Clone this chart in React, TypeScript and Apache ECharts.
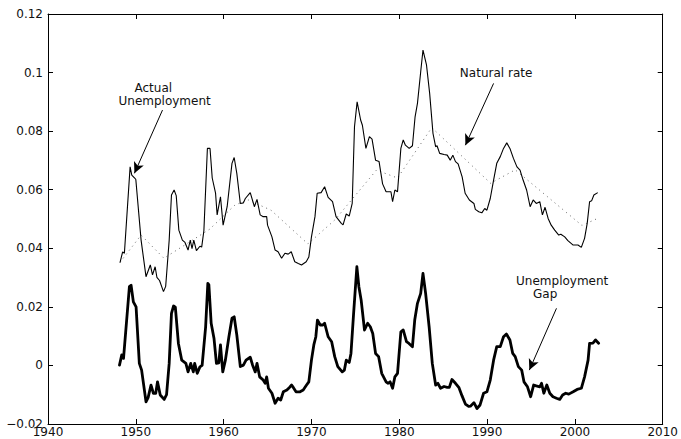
import { useEffect, useRef } from "react";
import * as echarts from "echarts";

// Actual unemployment rate, [year, rate]
const actualUnemployment: [number, number][] = [
  [1948.2, 0.0351], [1948.5, 0.0388], [1948.7, 0.0383], [1949.35, 0.0678], [1949.54, 0.065],
  [1949.9, 0.0639], [1950.0, 0.0635], [1950.6, 0.0428], [1951.16, 0.0303], [1951.65, 0.0343],
  [1951.9, 0.0309], [1952.2, 0.0337], [1952.4, 0.0301], [1952.7, 0.029], [1953.15, 0.0252],
  [1953.4, 0.027], [1953.8, 0.0428], [1954.06, 0.0582], [1954.36, 0.0599], [1954.6, 0.058],
  [1954.9, 0.0462], [1955.3, 0.0428], [1955.6, 0.042], [1955.95, 0.0394], [1956.2, 0.0428],
  [1956.4, 0.0399], [1956.6, 0.0428], [1956.9, 0.0392], [1957.3, 0.0407], [1957.5, 0.0404],
  [1957.75, 0.046], [1958.15, 0.0741], [1958.45, 0.0741], [1958.7, 0.064], [1959.08, 0.0588],
  [1959.26, 0.0514], [1959.64, 0.0576], [1959.94, 0.0479], [1960.4, 0.0542], [1960.95, 0.069],
  [1961.2, 0.071], [1961.5, 0.0656], [1961.9, 0.0553], [1962.25, 0.0555], [1962.47, 0.057],
  [1963.03, 0.059], [1963.5, 0.0542], [1963.8, 0.0567], [1964.16, 0.0514], [1964.5, 0.0508],
  [1964.9, 0.0508], [1965.0, 0.0479], [1965.5, 0.0439], [1965.86, 0.0394], [1966.2, 0.0388],
  [1966.6, 0.0366], [1966.98, 0.0383], [1967.35, 0.038], [1967.7, 0.0388], [1968.1, 0.0354],
  [1968.5, 0.0348], [1968.87, 0.0343], [1969.4, 0.0354], [1969.7, 0.037], [1970.0, 0.0439],
  [1970.4, 0.0508], [1970.65, 0.0588], [1971.1, 0.059], [1971.5, 0.061], [1971.9, 0.0574],
  [1972.4, 0.0559], [1972.8, 0.0508], [1973.4, 0.0485], [1973.6, 0.048], [1973.96, 0.0517],
  [1974.3, 0.051], [1974.64, 0.0553], [1974.9, 0.0815], [1975.2, 0.09], [1975.6, 0.0838],
  [1975.8, 0.082], [1976.2, 0.0741], [1976.6, 0.0781], [1976.9, 0.0773], [1977.3, 0.0701],
  [1977.7, 0.0696], [1978.1, 0.062], [1978.5, 0.0593], [1979.05, 0.0593], [1979.24, 0.0559],
  [1979.5, 0.0599], [1979.8, 0.0593], [1980.18, 0.0741], [1980.45, 0.077], [1980.7, 0.0752],
  [1981.13, 0.0741], [1981.5, 0.075], [1981.8, 0.0849], [1982.07, 0.0895], [1982.44, 0.1003],
  [1982.7, 0.1077], [1983.1, 0.1026], [1983.46, 0.0929], [1983.84, 0.0792], [1984.14, 0.0747],
  [1984.3, 0.075], [1984.6, 0.0724], [1985.1, 0.072], [1985.46, 0.0718], [1985.8, 0.0701],
  [1986.1, 0.0718], [1986.4, 0.0696], [1986.7, 0.0688], [1987.16, 0.0644], [1987.5, 0.0588],
  [1987.98, 0.0565], [1988.5, 0.0553], [1988.66, 0.0533], [1989.05, 0.0525], [1989.4, 0.0521],
  [1989.73, 0.0536], [1989.98, 0.053], [1990.36, 0.057], [1990.74, 0.0633], [1991.1, 0.069],
  [1991.5, 0.0713], [1991.87, 0.0741], [1992.24, 0.076], [1992.6, 0.0741], [1993.0, 0.0707],
  [1993.4, 0.0678], [1993.75, 0.0667], [1994.1, 0.0633], [1994.5, 0.0599], [1994.9, 0.0542],
  [1995.25, 0.0565], [1995.6, 0.0553], [1996.0, 0.0559], [1996.3, 0.0514], [1996.6, 0.054],
  [1996.95, 0.0502], [1997.3, 0.0479], [1997.7, 0.0462], [1998.16, 0.0445], [1998.4, 0.0448],
  [1998.84, 0.0439], [1999.2, 0.0426], [1999.8, 0.0411], [2000.35, 0.0411], [2000.73, 0.0403],
  [2001.1, 0.0434], [2001.4, 0.0485], [2001.67, 0.0559], [2001.9, 0.0562], [2002.16, 0.0582],
  [2002.6, 0.059],
];

// Estimated natural rate, [year, rate]
const naturalRate: [number, number][] = [
  [1948.2, 0.0352], [1950.6, 0.0445], [1953.2, 0.0366], [1958.4, 0.0465], [1961.3, 0.0548],
  [1962.8, 0.0565], [1965.4, 0.053], [1969.6, 0.0415], [1972.7, 0.0498], [1977.4, 0.0667],
  [1979.8, 0.064], [1983.7, 0.0812], [1990.4, 0.0622], [1993.2, 0.0668], [2000.8, 0.0478],
  [2002.8, 0.0505],
];

// Unemployment gap (actual minus natural), [year, gap]
const unemploymentGap: [number, number][] = [
  [1948.14, 0.0001], [1948.4, 0.0036], [1948.6, 0.0024], [1949.27, 0.0269], [1949.46, 0.0274],
  [1949.72, 0.0217], [1950.03, 0.02], [1950.4, 0.0007], [1950.66, -0.0016], [1951.16, -0.0124],
  [1951.4, -0.011], [1951.73, -0.0067], [1952.0, -0.0095], [1952.27, -0.0095], [1952.47, -0.0056],
  [1952.78, -0.0101], [1953.23, -0.0116], [1953.5, -0.01], [1953.8, 0.0007], [1954.06, 0.0178],
  [1954.3, 0.0203], [1954.5, 0.0199], [1954.85, 0.0075], [1955.23, 0.0018], [1955.7, 0.0007],
  [1955.95, -0.0022], [1956.25, 0.0007], [1956.55, -0.0022], [1956.7, 0.0007], [1957.0, -0.0027],
  [1957.3, -0.0005], [1957.55, 0.0], [1957.95, 0.0132], [1958.2, 0.028], [1958.32, 0.0275],
  [1958.58, 0.0144], [1958.9, 0.0093], [1959.18, 0.0007], [1959.45, 0.0009], [1959.64, 0.007],
  [1959.9, -0.0022], [1960.2, 0.0018], [1960.6, 0.0098], [1960.95, 0.0161], [1961.2, 0.0166],
  [1961.5, 0.0104], [1961.9, -0.0004], [1962.25, 0.0001], [1962.55, 0.0018], [1963.03, 0.0028],
  [1963.3, 0.0001], [1963.6, -0.0022], [1963.8, 0.0007], [1964.1, -0.0039], [1964.5, -0.005],
  [1964.73, -0.0061], [1964.9, -0.0039], [1965.1, -0.0078], [1965.5, -0.0095], [1965.86, -0.0129],
  [1966.2, -0.0112], [1966.5, -0.0118], [1966.8, -0.009], [1967.2, -0.0084], [1967.5, -0.0075],
  [1967.74, -0.0067], [1967.93, -0.0075], [1968.24, -0.009], [1968.7, -0.009], [1969.06, -0.0084],
  [1969.44, -0.0067], [1969.7, -0.0056], [1970.0, 0.0018], [1970.27, 0.007], [1970.5, 0.0098],
  [1970.68, 0.0155], [1971.0, 0.0138], [1971.3, 0.0138], [1971.5, 0.0144], [1971.9, 0.0098],
  [1972.3, 0.0081], [1972.65, 0.003], [1973.0, -0.0004], [1973.5, -0.0022], [1973.75, -0.0016],
  [1973.96, 0.0018], [1974.3, 0.001], [1974.5, 0.0041], [1974.8, 0.0178], [1975.17, 0.0337],
  [1975.4, 0.0269], [1975.66, 0.0223], [1976.04, 0.0121], [1976.4, 0.0144], [1976.7, 0.0132],
  [1976.98, 0.0109], [1977.3, 0.0041], [1977.65, 0.003], [1978.0, -0.0027], [1978.5, -0.0056],
  [1978.7, -0.0061], [1978.95, -0.0056], [1979.24, -0.0078], [1979.5, -0.0039], [1979.8, -0.0027],
  [1980.18, 0.0115], [1980.45, 0.0121], [1980.82, 0.0081], [1981.1, 0.0075], [1981.5, 0.0064],
  [1981.76, 0.0155], [1982.07, 0.0212], [1982.44, 0.0246], [1982.7, 0.0314], [1983.0, 0.0246],
  [1983.4, 0.0132], [1983.76, 0.0007], [1984.14, -0.0067], [1984.4, -0.0061], [1984.7, -0.0078],
  [1985.1, -0.0072], [1985.46, -0.0075], [1985.7, -0.0075], [1986.0, -0.0048], [1986.4, -0.0061],
  [1986.8, -0.0076], [1987.15, -0.0104], [1987.53, -0.0132], [1987.9, -0.014], [1988.1, -0.0139],
  [1988.5, -0.0127], [1988.85, -0.0147], [1989.2, -0.0135], [1989.6, -0.0095], [1989.98, -0.009],
  [1990.36, -0.005], [1990.74, 0.0018], [1991.1, 0.0064], [1991.5, 0.0064], [1991.87, 0.0098],
  [1992.2, 0.0107], [1992.6, 0.0087], [1992.92, 0.0041], [1993.2, 0.003], [1993.56, -0.0004],
  [1993.94, -0.0016], [1994.2, -0.0056], [1994.6, -0.0073], [1994.96, -0.0107], [1995.3, -0.0067],
  [1995.6, -0.007], [1996.0, -0.0073], [1996.2, -0.0061], [1996.46, -0.0095], [1996.8, -0.0067],
  [1997.14, -0.0095], [1997.5, -0.0107], [1997.9, -0.0112], [1998.27, -0.0116], [1998.6, -0.0101],
  [1998.95, -0.0095], [1999.3, -0.0098], [1999.8, -0.009], [2000.25, -0.0082], [2000.73, -0.0078],
  [2001.1, -0.0039], [2001.5, 0.0018], [2001.67, 0.0075], [2002.05, 0.0076], [2002.35, 0.0087],
  [2002.7, 0.0076],
];

// Axis ranges
const yearRange = { min: 1940, max: 2010, step: 10 };
const rateRange = { min: -0.02, max: 0.12, step: 0.02 };

// Annotation labels: position of the left edge / middle of the first line in data
// coordinates; each line may be indented by a few pixels
const annotationTexts: { lines: string[]; indents: number[]; at: [number, number] }[] = [
  { lines: ["Actual", "Unemployment"], indents: [16, 0], at: [1948.03, 0.0947] },
  { lines: ["Natural rate"], indents: [0], at: [1986.9, 0.0997] },
  { lines: ["Unemployment", "Gap"], indents: [0, 17], at: [1993.3, 0.0289] },
];

// Annotation arrows (tail -> head) in data coordinates
const annotationArrows: { from: [number, number]; to: [number, number] }[] = [
  { from: [1953.04, 0.0872], to: [1949.84, 0.0656] },
  { from: [1990.74, 0.0963], to: [1987.53, 0.0752] },
  { from: [1997.9, 0.0195], to: [1994.81, -0.0016] },
];

const FONT = '"DejaVu Sans", "Liberation Sans", Arial, sans-serif';
const TEXT_COLOR = "#111";
const LINE_GAP = 13;

const fmtRate = (v: number) => String(Math.round(v * 100) / 100).replace("-", "\u2212");
const fmtYear = (v: number) => String(Math.round(v));

export default function App() {
  const ref = useRef<HTMLDivElement>(null);

  useEffect(() => {
    if (!ref.current) return;
    const chart = echarts.init(ref.current, null, { renderer: "svg" });

    const xAxisBase = {
      type: "value" as const,
      min: yearRange.min,
      max: yearRange.max,
      interval: yearRange.step,
      splitLine: { show: false },
      axisLine: { show: true, onZero: false, lineStyle: { color: "#000", width: 1 } },
      axisTick: { show: true, inside: true, length: 5, lineStyle: { color: "#000" } },
    };
    const yAxisBase = {
      type: "value" as const,
      min: rateRange.min,
      max: rateRange.max,
      interval: rateRange.step,
      splitLine: { show: false },
      axisLine: { show: true, onZero: false, lineStyle: { color: "#000", width: 1 } },
      axisTick: { show: true, inside: true, length: 5, lineStyle: { color: "#000" } },
    };

    chart.setOption({
      animation: false,
      backgroundColor: "#fff",
      grid: { left: 48, right: 14, top: 14, bottom: 15, containLabel: false },
      xAxis: [
        {
          ...xAxisBase,
          position: "bottom",
          axisLabel: {
            show: true,
            margin: 2,
            color: TEXT_COLOR,
            fontFamily: FONT,
            fontSize: 12,
            formatter: fmtYear,
            showMinLabel: true,
            showMaxLabel: true,
          },
        },
        { ...xAxisBase, position: "top", axisLabel: { show: false } },
      ],
      yAxis: [
        {
          ...yAxisBase,
          position: "left",
          axisLabel: {
            show: true,
            margin: 5,
            color: TEXT_COLOR,
            fontFamily: FONT,
            fontSize: 12,
            formatter: fmtRate,
            showMinLabel: true,
            showMaxLabel: true,
          },
        },
        { ...yAxisBase, position: "right", axisLabel: { show: false } },
      ],
      series: [
        {
          name: "Natural rate",
          type: "line",
          data: naturalRate,
          symbol: "none",
          showSymbol: false,
          lineStyle: { color: "#666", width: 1, type: [1, 4] },
          z: 2,
        },
        {
          name: "Actual Unemployment",
          type: "line",
          data: actualUnemployment,
          symbol: "none",
          showSymbol: false,
          lineStyle: { color: "#000", width: 1.1 },
          z: 3,
        },
        {
          name: "Unemployment Gap",
          type: "line",
          data: unemploymentGap,
          symbol: "none",
          showSymbol: false,
          lineStyle: { color: "#000", width: 2.8, join: "round", cap: "round" },
          z: 4,
          markLine: {
            silent: true,
            animation: false,
            symbol: ["none", "arrow"],
            symbolSize: [8, 11],
            label: { show: false },
            lineStyle: { color: "#000", width: 1, type: "solid" },
            data: annotationArrows.map((a) => [{ coord: a.from }, { coord: a.to }]),
          },
        },
      ],
    });

    const graphic = annotationTexts.map((t) => {
      const [x, y] = chart.convertToPixel({ gridIndex: 0 }, t.at) as number[];
      const rich: Record<string, object> = {};
      t.lines.forEach((_, i) => {
        rich[`l${i}`] = {
          fontFamily: FONT,
          fontSize: 12,
          lineHeight: LINE_GAP,
          padding: [0, 0, 0, t.indents[i] || 0],
          fill: TEXT_COLOR,
        };
      });
      return {
        type: "text",
        x,
        y: y - LINE_GAP / 2,
        silent: true,
        style: {
          text: t.lines.map((l, i) => `{l${i}|${l}}`).join("\n"),
          fill: TEXT_COLOR,
          fontFamily: FONT,
          fontSize: 12,
          align: "left",
          verticalAlign: "top",
          rich,
        },
      };
    });
    chart.setOption({ graphic });

    return () => chart.dispose();
  }, []);

  return (
    <div
      ref={ref}
      style={{ position: "fixed", left: 0, top: 0, width: 681, height: 439, background: "#fff" }}
    />
  );
}
